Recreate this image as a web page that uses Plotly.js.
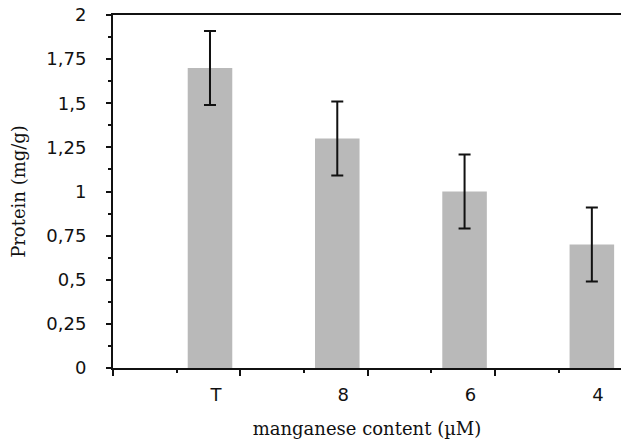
<!DOCTYPE html>
<html>
<head>
<meta charset="utf-8">
<script src="https://cdn.plot.ly/plotly-3.0.1.min.js"></script>
<style>html,body{margin:0;padding:0;background:#fff;}#chart{width:621px;height:441px;}</style>
</head>
<body>
<div id="chart"></div>
<script>
// Data
var categories = ["T", "8", "6", "4"];
var protein = [1.7, 1.3, 1.0, 0.7];
var proteinErr = [0.21, 0.21, 0.21, 0.21];
var yTickVals = [0, 0.25, 0.5, 0.75, 1, 1.25, 1.5, 1.75, 2];

var positions = categories.map(function (c, i) { return i; });
var xRange = [-0.762, 3.229];
var boundaryTicks = [-0.762, 0.238, 1.238, 2.238, 3.238];
var midTicks = [-0.262, 0.738, 1.738, 2.738];

var bars = {
  type: "bar",
  x: positions,
  y: protein,
  width: 0.35,
  marker: { color: "#b9b9b9", line: { width: 0 } },
  hoverinfo: "none",
  xaxis: "x",
  yaxis: "y"
};

var errors = {
  type: "scatter",
  mode: "markers",
  x: positions,
  y: protein,
  marker: { size: 1, color: "rgba(0,0,0,0)" },
  error_y: { type: "data", array: proteinErr, visible: true, color: "#111", thickness: 2, width: 6 },
  hoverinfo: "none",
  xaxis: "x2",
  yaxis: "y"
};

var layout = {
  width: 621,
  height: 441,
  margin: { l: 113, r: 0, t: 15, b: 73, pad: 0 },
  paper_bgcolor: "#fff",
  plot_bgcolor: "#fff",
  separators: ", ",
  showlegend: false,
  font: { family: "DejaVu Sans", size: 18, color: "#111" },
  xaxis: {
    type: "linear",
    range: xRange,
    fixedrange: true,
    showgrid: false,
    zeroline: false,
    showline: true,
    linecolor: "#111",
    linewidth: 2,
    mirror: true,
    tickmode: "array",
    tickvals: boundaryTicks,
    ticks: "outside",
    ticklen: 6,
    tickwidth: 2,
    tickcolor: "#111",
    showticklabels: false,
    minor: { tickmode: "array", tickvals: midTicks, ticks: "outside", ticklen: 3, tickwidth: 2, tickcolor: "#111" }
  },
  xaxis2: {
    type: "linear",
    overlaying: "x",
    anchor: "y",
    side: "bottom",
    range: xRange,
    fixedrange: true,
    showgrid: false,
    zeroline: false,
    showline: false,
    tickmode: "array",
    tickvals: positions,
    ticktext: categories,
    ticks: "",
    ticklabelshift: 6,
    ticklabelstandoff: 14,
    tickfont: { family: "DejaVu Sans", size: 18, color: "#111" },
    title: { text: "manganese content (\u00b5M)", font: { family: "DejaVu Serif", size: 18, color: "#111" }, standoff: 18 }
  },
  yaxis: {
    range: [0, 2],
    fixedrange: true,
    showgrid: false,
    zeroline: false,
    showline: true,
    linecolor: "#111",
    linewidth: 2,
    tickmode: "array",
    tickvals: yTickVals,
    ticks: "outside",
    ticklen: 5,
    tickwidth: 2,
    tickcolor: "#111",
    ticklabelstandoff: 16,
    tickfont: { family: "DejaVu Sans", size: 18, color: "#111" },
    minor: { dtick: 0.125, tick0: 0, ticks: "outside", ticklen: 3, tickwidth: 2, tickcolor: "#111" },
    title: { text: "Protein (mg/g)", font: { family: "DejaVu Serif", size: 18, color: "#111" }, standoff: 16 }
  }
};

Plotly.newPlot("chart", [bars, errors], layout, { displayModeBar: false, staticPlot: true });
</script>
</body>
</html>
